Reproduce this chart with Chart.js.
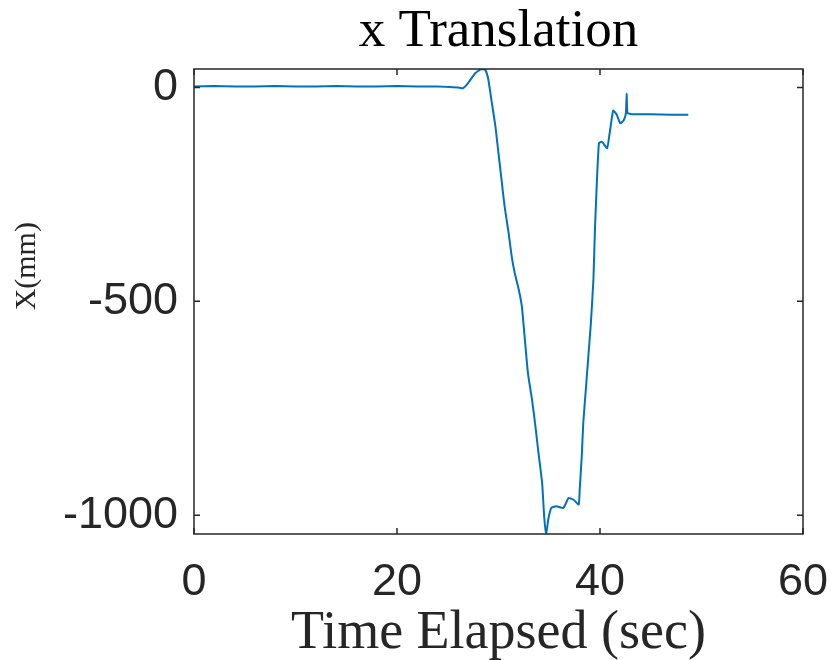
<!DOCTYPE html>
<html>
<head>
<meta charset="utf-8">
<script src="https://cdn.jsdelivr.net/npm/chart.js@4/dist/chart.umd.min.js"></script>
<style>
  html, body { margin: 0; padding: 0; background: #fff; }
  #wrap { width: 831px; height: 660px; position: relative; }
</style>
</head>
<body>
<div id="wrap"><canvas id="c" width="831" height="660"></canvas></div>
<script>
// ---- data ----
const timeSec = [0, 2, 4, 6, 8, 10, 12, 14, 16, 18, 20, 22, 24, 25.2, 26.0, 26.5,
  27.0, 27.7, 28.3, 28.7, 29.0, 29.3, 29.7, 30.0, 30.3, 30.6, 31.0, 31.3, 31.6,
  32.0, 32.3, 32.6, 32.9, 33.3, 33.6, 33.9, 34.3, 34.5, 34.7, 34.9,
  35.2, 35.7, 36.4, 36.9, 37.4, 37.9, 38.0, 38.2, 38.35, 38.6, 38.85,
  39.1, 39.35, 39.5, 39.7, 39.9, 40.2, 40.7, 41.0, 41.3, 41.65,
  42.0, 42.35, 42.55, 42.63, 42.7, 43.0, 43.3, 45, 47, 48.7];
const xTranslation = [2, 3, 2, 2, 3, 2, 2, 3, 2, 2, 3, 2, 2, 1, 0, -2,
  10, 33, 43, 41, 18, -29, -92, -154, -216, -278, -341, -395, -434,
  -473, -512, -590, -668, -730, -785, -847, -925, -1003, -1044, -1010,
  -983, -979, -983, -960, -964, -975, -940, -863, -785, -707, -629,
  -551, -450, -333, -216, -130, -127, -142, -99, -54, -64,
  -84, -76, -60, -14, -60, -62, -63, -63, -64, -64];
const xTicks = [0, 20, 40, 60];
const yTicks = [-1000, -500, 0];
const xLimits = [0, 60];
const yLimits = [-1044, 43];
const titleText = 'x Translation';
const xLabelText = 'Time Elapsed (sec)';
const yLabelText = 'X(mm)';

const axisColor = '#262626';

const boxPlugin = {
  id: 'matlabBox',
  afterDatasetsDraw(chart) {
    const { ctx, chartArea: a, scales } = chart;
    ctx.save();
    ctx.strokeStyle = axisColor;
    ctx.lineWidth = 1.5;
    ctx.strokeRect(a.left, a.top, a.right - a.left, a.bottom - a.top);
    const tl = 6;
    ctx.beginPath();
    xTicks.forEach(v => {
      const px = scales.x.getPixelForValue(v);
      ctx.moveTo(px, a.bottom); ctx.lineTo(px, a.bottom - tl);
      ctx.moveTo(px, a.top); ctx.lineTo(px, a.top + tl);
    });
    yTicks.forEach(v => {
      const py = scales.y.getPixelForValue(v);
      ctx.moveTo(a.left, py); ctx.lineTo(a.left + tl, py);
      ctx.moveTo(a.right, py); ctx.lineTo(a.right - tl, py);
    });
    ctx.stroke();
    // y axis label (rotated)
    ctx.fillStyle = axisColor;
    ctx.font = '30px "Liberation Serif"';
    ctx.textAlign = 'center';
    ctx.textBaseline = 'middle';
    ctx.translate(27, scales.y.getPixelForValue(-418));
    ctx.rotate(-Math.PI / 2);
    ctx.fillText(yLabelText, 0, 0);
    ctx.restore();
  }
};

new Chart(document.getElementById('c'), {
  type: 'line',
  data: {
    datasets: [{
      data: timeSec.map((t, i) => ({ x: t, y: xTranslation[i] })),
      borderColor: '#0072BD',
      borderWidth: 2,
      pointRadius: 0,
      fill: false,
      tension: 0.15
    }]
  },
  options: {
    responsive: false,
    animation: false,
    devicePixelRatio: 1,
    layout: { padding: { left: 0, right: 28, top: 0, bottom: 0 } },
    plugins: {
      legend: { display: false },
      tooltip: { enabled: false },
      title: {
        display: true,
        text: titleText,
        fullSize: false,
        color: '#000',
        font: { family: '"Liberation Serif"', size: 53, weight: 'normal', lineHeight: 1.2 },
        padding: { top: 0, bottom: 5.4 }
      }
    },
    scales: {
      x: {
        type: 'linear',
        min: xLimits[0], max: xLimits[1],
        afterBuildTicks(s) { s.ticks = xTicks.map(v => ({ value: v })); },
        afterFit(s) { s.height = 126; s.paddingLeft = 0; s.paddingRight = 0; },
        grid: { display: false, drawTicks: false },
        border: { display: false },
        ticks: {
          color: axisColor, padding: 22, maxRotation: 0,
          font: { family: '"Liberation Sans"', size: 45 },
          callback: v => String(v)
        },
        title: {
          display: true, text: xLabelText, color: axisColor,
          font: { family: '"Liberation Serif"', size: 54, lineHeight: 1.2 },
          padding: { top: 0, bottom: -6 }
        }
      },
      y: {
        type: 'linear',
        min: yLimits[0], max: yLimits[1],
        afterBuildTicks(s) { s.ticks = yTicks.map(v => ({ value: v })); },
        afterFit(s) { s.width = 194; s.paddingTop = 0; s.paddingBottom = 0; },
        grid: { display: false, drawTicks: false },
        border: { display: false },
        ticks: {
          color: axisColor, padding: 16,
          font: { family: '"Liberation Sans"', size: 45 },
          callback: v => String(v)
        }
      }
    }
  },
  plugins: [boxPlugin]
});
</script>
</body>
</html>
